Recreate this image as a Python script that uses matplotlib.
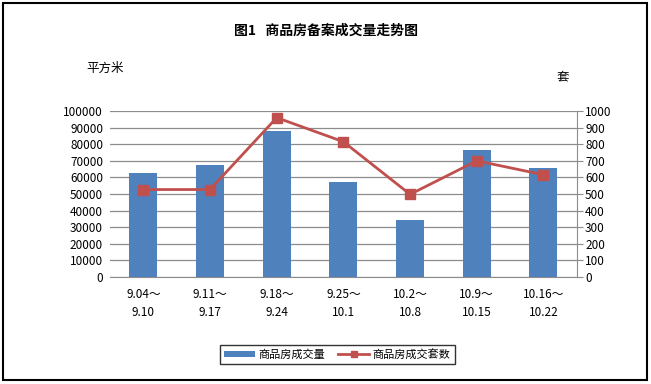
import matplotlib
matplotlib.use("Agg")
import matplotlib.pyplot as plt
from matplotlib.lines import Line2D
from matplotlib.patches import Patch, Rectangle
import numpy as np

plt.rcParams['font.family'] = ['Noto Sans CJK SC', 'DejaVu Sans']

# 数据
periods = ['9.04～\n9.10', '9.11～\n9.17', '9.18～\n9.24', '9.25～\n10.1',
           '10.2～\n10.8', '10.9～\n10.15', '10.16～\n10.22']
area = [62700, 67500, 88000, 57400, 34500, 76500, 65600]     # 平方米
units = [527, 527, 960, 815, 498, 700, 616]                    # 套

bar_color = '#4F81BD'
line_color = '#C0504D'
grid_color = '#8C8C8C'

fig = plt.figure(figsize=(6.51, 3.84), dpi=100)
ax = fig.add_axes([0.169, 0.2786, 0.717, 0.4323])
ax2 = ax.twinx()

x = np.arange(len(periods))
ax.bar(x, area, width=0.42, color=bar_color, zorder=2)
ax2.plot(x, units, color=line_color, lw=2, marker='s', markersize=7,
         markerfacecolor=line_color, markeredgecolor=line_color, zorder=3)

ax.set_xlim(-0.5, len(periods) - 0.5)
ax.set_ylim(0, 100000)
ax2.set_ylim(0, 1000)
ax.set_yticks(np.arange(0, 100001, 10000))
ax2.set_yticks(np.arange(0, 1001, 100))
ax.yaxis.grid(True, color=grid_color, lw=0.9, zorder=0)
ax.set_axisbelow(True)

ax.set_xticks(x)
ax.set_xticklabels(periods, fontsize=8.5, linespacing=1.45)
ax.tick_params(axis='x', length=0, pad=8)
ax.tick_params(axis='y', length=0, labelsize=8.5, pad=5)
ax2.tick_params(axis='y', length=4, color=grid_color, labelsize=8.5, pad=2)

for s in ['top', 'left']:
    ax.spines[s].set_visible(False)
    ax2.spines[s].set_visible(False)
ax.spines['right'].set_visible(False)
ax.spines['bottom'].set_color(grid_color)
ax2.spines['bottom'].set_visible(False)
ax2.spines['right'].set_color(grid_color)

fig.text(0.5, 0.921, '图1   商品房备案成交量走势图', ha='center', va='center',
         fontsize=10, fontweight='bold')
fig.text(0.133, 0.823, '平方米', ha='left', va='center', fontsize=9)
fig.text(0.855, 0.800, '套', ha='left', va='center', fontsize=9)

handles = [Patch(facecolor=bar_color, edgecolor='none'),
           Line2D([0], [0], color=line_color, lw=2, marker='s', markersize=5)]
leg = fig.legend(handles, ['商品房成交量', '商品房成交套数'], loc='center',
                 bbox_to_anchor=(0.518, 0.077), ncol=2, fontsize=8,
                 frameon=True, fancybox=False, handlelength=2.8,
                 handleheight=0.5, columnspacing=1.2, handletextpad=0.3,
                 borderpad=0.35)
leg.get_frame().set_edgecolor('black')
leg.get_frame().set_linewidth(1)

fig.patches.append(Rectangle((0.005, 0.01), 0.989, 0.983, transform=fig.transFigure,
                             fill=False, edgecolor='black', lw=1.5))

fig.savefig('out.png', dpi=100)
